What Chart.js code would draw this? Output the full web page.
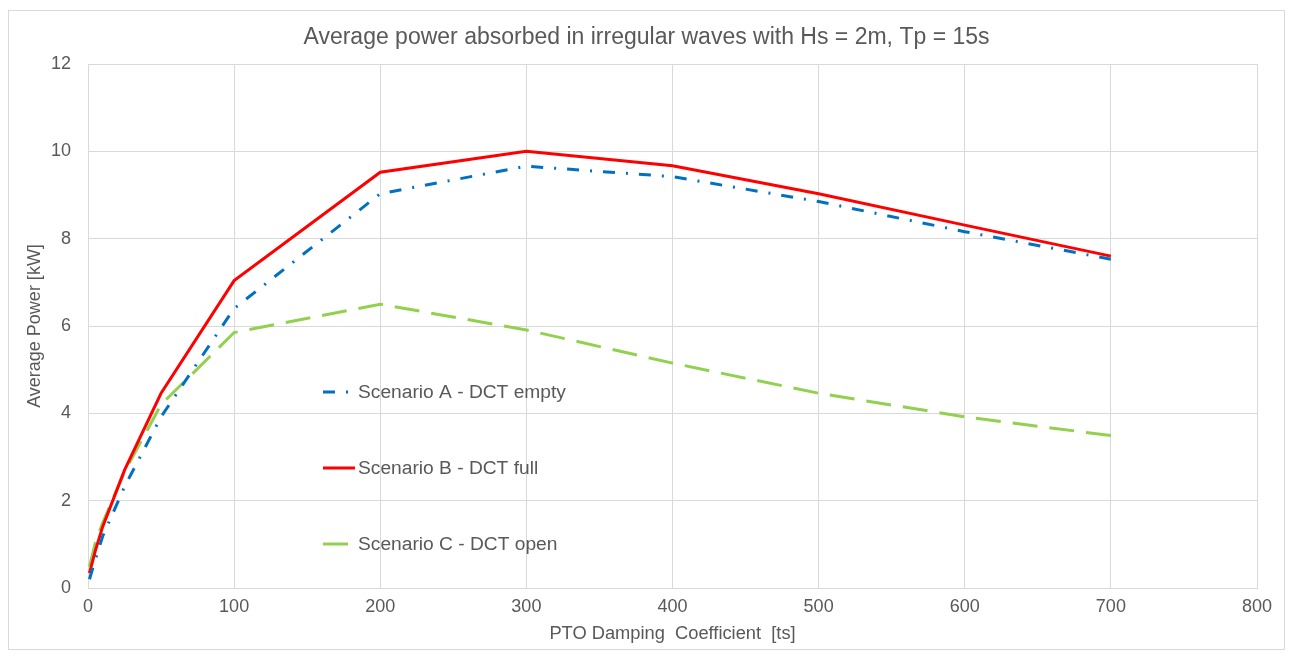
<!DOCTYPE html>
<html>
<head>
<meta charset="utf-8">
<title>Average power absorbed in irregular waves</title>
<script src="https://cdn.jsdelivr.net/npm/chart.js@4/dist/chart.umd.min.js"></script>
<style>
  body { margin: 0; background: #fff; }
  #frame {
    position: absolute; left: 8px; top: 10px;
    width: 1277px; height: 640px;
    border: 1px solid #d9d9d9; box-sizing: border-box;
  }
  #chart { display: block; }
</style>
</head>
<body>
<div id="frame"><canvas id="chart" width="1275" height="638"></canvas></div>
<script>
// damping coefficient values (x)
const damping = [1, 5, 10, 25, 50, 100, 200, 300, 400, 500, 600, 700];
// average power [kW]
const scenarioA = [0.20, 0.65, 1.18, 2.32, 3.92, 6.40, 9.03, 9.66, 9.42, 8.85, 8.16, 7.53];
const scenarioB = [0.34, 0.85, 1.40, 2.70, 4.46, 7.04, 9.52, 10.00, 9.67, 9.03, 8.31, 7.60];
const scenarioC = [0.49, 1.03, 1.49, 2.66, 4.20, 5.85, 6.50, 5.91, 5.15, 4.46, 3.92, 3.49];
const seriesNames = ['Scenario A - DCT empty', 'Scenario B - DCT full', 'Scenario C - DCT open'];
const xTicks = [0, 100, 200, 300, 400, 500, 600, 700, 800];
const yTicks = [0, 2, 4, 6, 8, 10, 12];

const textColor = '#595959';
const gridColor = '#d9d9d9';
const fontFamily = '"Liberation Sans", Arial, sans-serif';

function toPoints(ys) {
  return ys.map((y, i) => ({ x: damping[i], y: y }));
}

// legend drawn inside the plot area, one row per series
const insideLegend = {
  id: 'insideLegend',
  afterDraw(chart) {
    const ctx = chart.ctx;
    const rows = [381, 457, 533];
    const x0 = 314, x1 = 346, tx = 349;
    ctx.save();
    chart.data.datasets.forEach((ds, i) => {
      const y = rows[i];
      ctx.beginPath();
      ctx.lineWidth = ds.borderWidth;
      ctx.strokeStyle = ds.borderColor;
      ctx.setLineDash(ds.borderDash || []);
      ctx.moveTo(x0, y);
      ctx.lineTo(x1, y);
      ctx.stroke();
      ctx.setLineDash([]);
      ctx.fillStyle = textColor;
      ctx.font = '19.2px ' + fontFamily;
      ctx.textBaseline = 'middle';
      ctx.textAlign = 'left';
      ctx.fillText(ds.label, tx, y + 1);
    });
    ctx.restore();
  }
};

new Chart(document.getElementById('chart'), {
  type: 'line',
  data: {
    datasets: [
      {
        label: seriesNames[0],
        data: toPoints(scenarioA),
        borderColor: '#0070c0',
        borderWidth: 3,
        borderDash: [12, 11, 2, 11],
        pointRadius: 0,
        tension: 0
      },
      {
        label: seriesNames[1],
        data: toPoints(scenarioB),
        borderColor: '#ff0000',
        borderWidth: 3,
        pointRadius: 0,
        tension: 0
      },
      {
        label: seriesNames[2],
        data: toPoints(scenarioC),
        borderColor: '#92d050',
        borderWidth: 3,
        borderDash: [25, 12],
        pointRadius: 0,
        tension: 0
      }
    ]
  },
  options: {
    responsive: false,
    animation: false,
    devicePixelRatio: 1,
    layout: { padding: 0 },
    plugins: {
      legend: { display: false },
      tooltip: { enabled: false },
      title: {
        display: true,
        text: 'Average power absorbed in irregular waves with Hs = 2m, Tp = 15s',
        color: textColor,
        font: { family: fontFamily, size: 23, weight: 'normal' },
        padding: { top: 13, bottom: 12.4 }
      }
    },
    scales: {
      x: {
        type: 'linear',
        min: 0,
        max: 800,
        afterBuildTicks(scale) { scale.ticks = xTicks.map(v => ({ value: v })); },
        afterFit(scale) { scale.height = 61; },
        grid: { color: gridColor, lineWidth: 1, drawTicks: false },
        border: { color: gridColor },
        ticks: {
          color: textColor,
          padding: 8,
          font: { family: fontFamily, size: 18 }
        },
        title: {
          display: true,
          text: 'PTO Damping  Coefficient  [ts]',
          color: textColor,
          font: { family: fontFamily, size: 18.3 },
          padding: { top: 0, bottom: 4 }
        }
      },
      y: {
        min: 0,
        max: 12,
        afterBuildTicks(scale) { scale.ticks = yTicks.map(v => ({ value: v })); },
        afterFit(scale) { scale.width = 79; },
        grid: { color: gridColor, lineWidth: 1, drawTicks: false },
        border: { color: gridColor },
        ticks: {
          color: textColor,
          padding: 17,
          font: { family: fontFamily, size: 18 }
        },
        title: {
          display: true,
          text: 'Average Power [kW]',
          color: textColor,
          font: { family: fontFamily, size: 18 },
          padding: { top: 15, bottom: 0 }
        }
      },
      // empty right-hand axis: only reserves the margin so the title stays centred on the frame
      yRight: {
        position: 'right',
        min: 0,
        max: 12,
        afterFit(scale) { scale.width = 27; },
        grid: { display: false, drawOnChartArea: false },
        border: { display: false },
        ticks: { display: false }
      }
    }
  },
  plugins: [insideLegend]
});
</script>
</body>
</html>
